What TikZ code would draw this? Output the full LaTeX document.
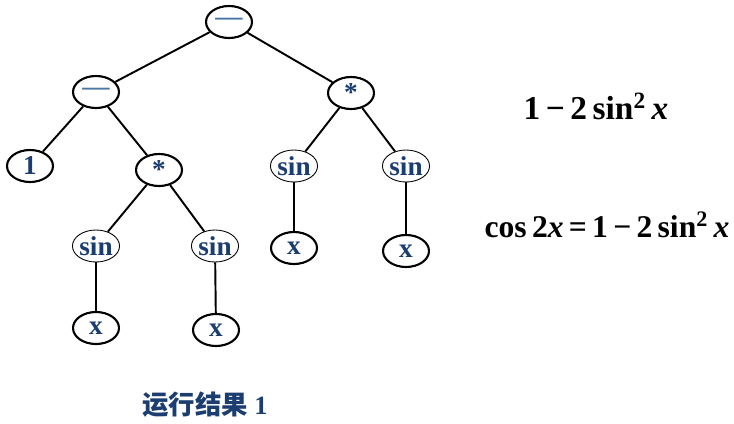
\documentclass[tikz,border=0pt]{standalone}
\usepackage{fontspec}
\setmainfont{Liberation Serif}
\newfontfamily\cjk{Noto Sans CJK SC}
\usepackage{tikz}
\usepackage{xcolor}
\usetikzlibrary{shapes.geometric, positioning}
\definecolor{cText}{RGB}{27,61,112}
\definecolor{cDash}{RGB}{74,118,168}
\tikzset{
	opnode/.style  ={ellipse, draw=black, line width=1.2pt, minimum width=0.92cm, minimum height=0.64cm, inner sep=0pt, fill=white, text=cText, font=\fontsize{15.5}{17}\selectfont\bfseries},
	fnnode/.style  ={opnode, line width=0.5pt},
	edge/.style    ={line width=1.1pt},
}
\begin{document}
\begin{tikzpicture}[x=0.02cm, y=-0.02cm]
	\useasboundingbox (0,0) rectangle (734,423);
	% tree
	\node[opnode] (root) at (229,22) {\textcolor{cDash}{---}};
	\node[opnode] (sub) at (96,92) {\textcolor{cDash}{---}};
	\node[opnode] (mulR) at (351,93) {*};
	\node[opnode] (one) at (30,166) {1};
	\node[opnode] (mulL) at (159,170) {*};
	\node[fnnode] (sinA) at (96,246) {sin};
	\node[fnnode] (sinB) at (215,246) {sin};
	\node[fnnode] (sinC) at (294,166) {sin};
	\node[fnnode] (sinD) at (406,166) {sin};
	\node[opnode] (xA) at (96,328) {x};
	\node[opnode] (xB) at (216,330) {x};
	\node[opnode] (xC) at (294,248) {x};
	\node[opnode] (xD) at (406,251) {x};
	\draw[edge] (root) -- (sub);
	\draw[edge] (root) -- (mulR);
	\draw[edge] (sub) -- (one);
	\draw[edge] (sub) -- (mulL);
	\draw[edge] (mulL) -- (sinA);
	\draw[edge] (mulL) -- (sinB);
	\draw[edge] (mulR) -- (sinC);
	\draw[edge] (mulR) -- (sinD);
	\draw[edge] (sinA) -- (xA);
	\draw[edge] (sinB) -- (xB);
	\draw[edge] (sinC) -- (xC);
	\draw[edge] (sinD) -- (xD);
	% formulas and caption
	\node[font=\fontsize{19}{22}\selectfont\bfseries] (res) at (596,106) {1\,−\,2\,sin\textsuperscript{2}\,\textit{x}};
	\node[font=\fontsize{18}{22}\selectfont\bfseries] (ident) at (607,225) {cos\,2\textit{x}\,=\,1\,−\,2\,sin\textsuperscript{2}\,\textit{x}};
	\node[text=cText, font=\fontsize{15}{17}\selectfont\bfseries] (cap) at (205,405) {{\cjk 运行结果} 1};
\end{tikzpicture}
\end{document}
